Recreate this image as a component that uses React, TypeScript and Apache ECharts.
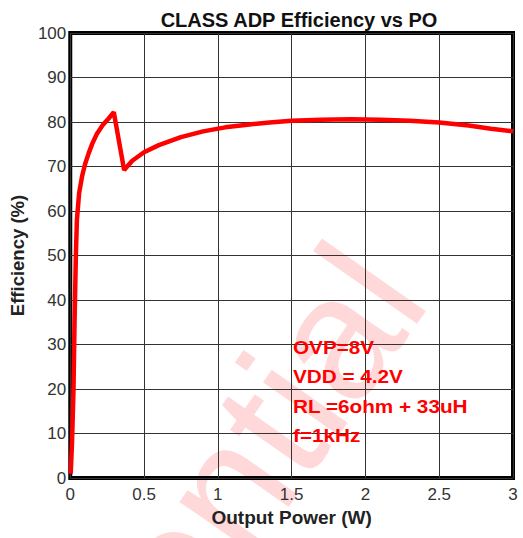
import React, { useEffect, useRef } from "react";
import * as echarts from "echarts";

const xValues = [0.003, 0.012, 0.022, 0.029, 0.038, 0.045, 0.06, 0.08, 0.1, 0.125, 0.15, 0.18, 0.22, 0.26, 0.295, 0.365, 0.42, 0.5, 0.6, 0.75, 0.9, 1.05, 1.2, 1.35, 1.5, 1.7, 1.9, 2.1, 2.3, 2.5, 2.7, 2.85, 3.0];
const efficiency = [1, 8, 20, 35, 50, 58, 64, 67.8, 70.5, 73, 75.2, 77.3, 79.3, 80.8, 82.2, 69.2, 71.3, 73.2, 74.8, 76.6, 77.9, 78.8, 79.4, 79.9, 80.3, 80.5, 80.6, 80.5, 80.3, 79.9, 79.2, 78.5, 77.9];
const annotations = ["OVP=8V", "VDD = 4.2V", "RL =6ohm + 33uH", "f=1kHz"];
const titleText = "CLASS ADP Efficiency vs PO";
const xName = "Output Power (W)";
const yName = "Efficiency (%)";
const watermark = "Confidential";

const FONT = "'Liberation Sans', Arial, sans-serif";

export default function App() {
  const ref = useRef<HTMLDivElement>(null);
  useEffect(() => {
    document.body.style.margin = "0";
    if (!ref.current) return;
    const chart = echarts.init(ref.current, undefined, { renderer: "svg" });
    const data = xValues.map((x, i) => [x, efficiency[i]]);
    chart.setOption({
      animation: false,
      backgroundColor: "#ffffff",
      title: {
        text: titleText,
        left: 294,
        textAlign: "center",
        top: 5,
        textStyle: { fontFamily: FONT, fontSize: 20, fontWeight: "bold", color: "#111" },
      },
      grid: {
        left: 70,
        right: 10,
        top: 33,
        bottom: 60,
        show: true,
        borderColor: "#000",
        borderWidth: 4,
        backgroundColor: "transparent",
      },
      xAxis: {
        type: "value",
        min: 0,
        max: 3,
        interval: 0.5,
        name: xName,
        nameLocation: "middle",
        nameGap: 30,
        nameTextStyle: { fontFamily: FONT, fontSize: 19, fontWeight: "bold", color: "#222" },
        axisLine: { show: false },
        axisTick: { show: false },
        axisLabel: { fontFamily: FONT, fontSize: 17, color: "#333", margin: 8 },
        splitLine: { show: true, lineStyle: { color: "#333", width: 1 } },
      },
      yAxis: {
        type: "value",
        min: 0,
        max: 100,
        interval: 10,
        name: yName,
        nameLocation: "middle",
        nameGap: 37,
        nameTextStyle: { fontFamily: FONT, fontSize: 18.5, fontWeight: "bold", color: "#222" },
        axisLine: { show: false },
        axisTick: { show: false },
        axisLabel: { fontFamily: FONT, fontSize: 17, color: "#333", margin: 4 },
        splitLine: { show: true, lineStyle: { color: "#333", width: 1 } },
      },
      graphic: [
        {
          type: "text",
          x: 383,
          y: 267,
          rotation: (55 * Math.PI) / 180,
          z: -10,
          silent: true,
          style: {
            text: watermark,
            fontFamily: FONT,
            fontSize: 175,
            fill: "rgba(255,0,0,0.15)",
            textAlign: "right",
            textVerticalAlign: "middle",
          },
        },
        ...annotations.map((t, i) => ({
          type: "text",
          x: 293,
          y: 347 + i * 29.5,
          scaleX: 1.12,
          z: 100,
          style: {
            text: t,
            fontFamily: FONT,
            fontSize: 18.5,
            fontWeight: "bold",
            fill: "#ff0000",
            textAlign: "left",
            textVerticalAlign: "middle",
          },
        })),
      ],
      series: [
        {
          type: "line",
          data,
          showSymbol: false,
          symbol: "none",
          lineStyle: { color: "#ff0000", width: 4.5 },
          z: 5,
        },
      ],
    });
    return () => chart.dispose();
  }, []);
  return <div ref={ref} style={{ width: 523, height: 538 }} />;
}
